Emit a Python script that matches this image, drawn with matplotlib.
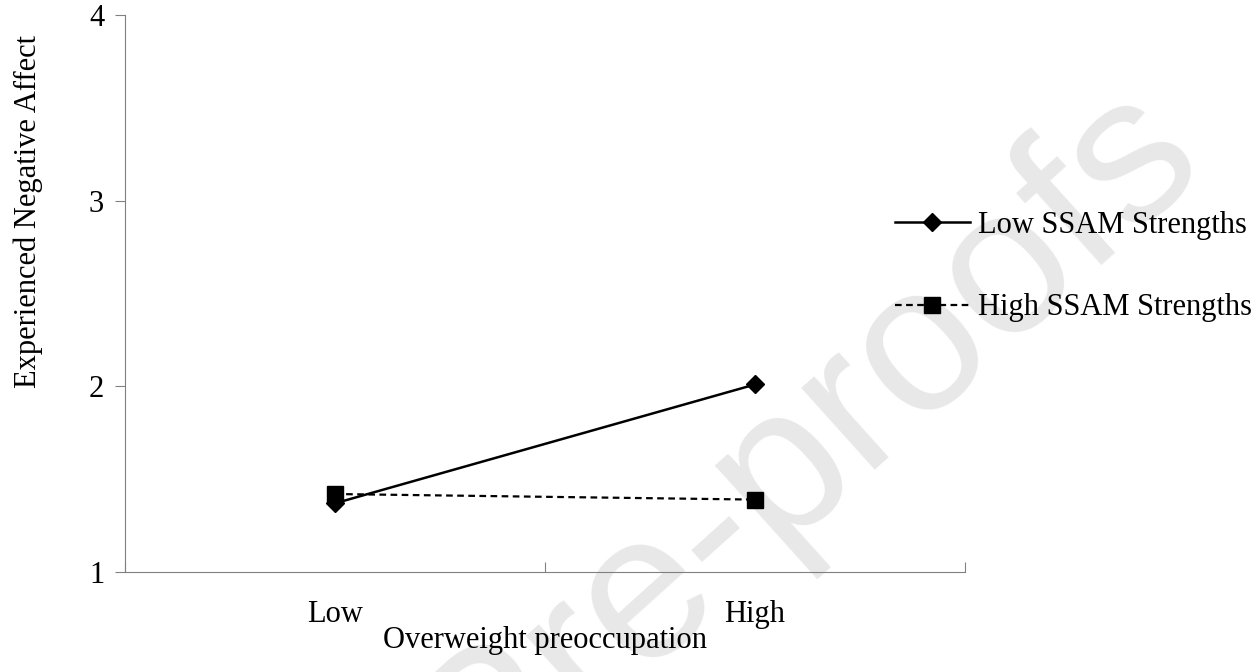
import matplotlib.pyplot as plt
import numpy as np

plt.rcParams['font.family'] = ['Liberation Serif', 'DejaVu Serif']

categories = ['Low', 'High']
low_ssam = [1.37, 2.01]
high_ssam = [1.42, 1.39]
series_names = ['Low SSAM Strengths', 'High SSAM Strengths']
y_ticks = [1, 2, 3, 4]

fig = plt.figure(figsize=(12.51, 6.72), dpi=100)
ax = fig.add_axes([125 / 1251, 100 / 672, 840 / 1251, 557 / 672])
ax.patch.set_alpha(0)

# watermark behind everything
fig.text(0.967, 0.749, 'Journal Pre-proofs', fontsize=150, family='Liberation Sans',
         color='#e8e8e8', rotation=42, rotation_mode='anchor',
         ha='right', va='baseline', zorder=-1)

x = np.arange(len(categories))
ax.plot(x, low_ssam, color='black', linewidth=1.8, marker='D', markersize=9,
        label=series_names[0])
ax.plot(x, high_ssam, color='black', linewidth=1.6, linestyle=(0, (3, 2)),
        marker='s', markersize=11, label=series_names[1])

ax.set_xlim(-0.5, 1.5)
ax.set_ylim(1, 4)
ax.set_yticks(y_ticks)
ax.set_xticks([-0.5, 0.5, 1.5])
ax.set_xticklabels([])
ax.set_xticks(x, minor=True)
ax.set_xticklabels(categories, minor=True, fontsize=22)
ax.tick_params(axis='x', which='minor', length=0, pad=20)
ax.tick_params(axis='x', which='major', direction='in', length=7, color='#808080')
ax.tick_params(axis='y', direction='out', length=7, color='#808080', labelsize=22, pad=8)

for s in ['top', 'right']:
    ax.spines[s].set_visible(False)
for s in ['left', 'bottom']:
    ax.spines[s].set_color('#808080')

ax.set_xlabel('Overweight preoccupation', fontsize=22, labelpad=-2)
ax.set_ylabel('Experienced Negative Affect', fontsize=22)
ax.yaxis.set_label_coords(-0.098, 0.648)

ax.legend(loc='center left', bbox_to_anchor=(895 / 1251, 1 - 266.5 / 672),
          bbox_transform=fig.transFigure, frameon=False, fontsize=22,
          handlelength=2.45, handletextpad=0.25, labelspacing=1.75, borderpad=0,
          borderaxespad=0)

plt.savefig('out.png', dpi=100)
plt.close()
